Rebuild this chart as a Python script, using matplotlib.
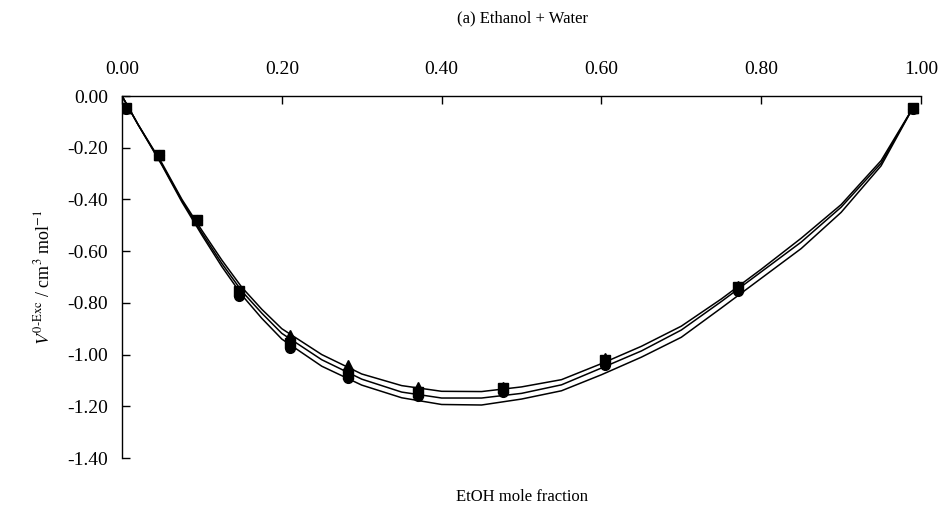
import matplotlib
matplotlib.use("Agg")
import matplotlib.pyplot as plt

plt.rcParams['font.family'] = ['Liberation Serif', 'DejaVu Serif']
plt.rcParams['mathtext.fontset'] = 'stix'

# measured points (three series)
x_pts = [0.005, 0.046, 0.094, 0.147, 0.210, 0.283, 0.370, 0.477, 0.605, 0.771, 0.990]
sq_vals = [-0.045, -0.23, -0.48, -0.755, -0.955, -1.075, -1.145, -1.13, -1.02, -0.74, -0.045]
tri_vals = [-0.045, -0.23, -0.48, -0.755, -0.925, -1.04, -1.125, -1.125, -1.015, -0.735, -0.045]
circ_vals = [-0.05, -0.23, -0.48, -0.775, -0.975, -1.09, -1.16, -1.145, -1.04, -0.755, -0.05]

# fitted curves
x_fit = [0.0, 0.02, 0.05, 0.075, 0.10, 0.125, 0.15, 0.175, 0.20, 0.25, 0.30, 0.35, 0.40, 0.45,
         0.50, 0.55, 0.60, 0.65, 0.70, 0.75, 0.80, 0.85, 0.90, 0.95, 0.99]
fit_a = [0.0, -0.11, -0.26, -0.40, -0.52, -0.635, -0.74, -0.825, -0.90, -1.00, -1.075, -1.12, -1.142, -1.143,
         -1.125, -1.097, -1.035, -0.968, -0.89, -0.785, -0.67, -0.55, -0.42, -0.25, -0.045]
fit_b = [0.0, -0.11, -0.265, -0.405, -0.53, -0.648, -0.755, -0.84, -0.918, -1.02, -1.095, -1.145, -1.168, -1.168,
         -1.15, -1.117, -1.052, -0.986, -0.905, -0.795, -0.68, -0.565, -0.43, -0.26, -0.045]
fit_c = [0.0, -0.11, -0.268, -0.41, -0.538, -0.66, -0.77, -0.86, -0.94, -1.045, -1.118, -1.167, -1.193, -1.195,
         -1.172, -1.14, -1.078, -1.01, -0.933, -0.82, -0.705, -0.59, -0.45, -0.27, -0.045]

x_ticks = [0.0, 0.2, 0.4, 0.6, 0.8, 1.0]
y_ticks = [0.0, -0.2, -0.4, -0.6, -0.8, -1.0, -1.2, -1.4]

fig = plt.figure(figsize=(9.43, 5.08), dpi=100)
ax = fig.add_axes([0.1294, 0.0984, 0.8473, 0.7126])

for fit in (fit_a, fit_b, fit_c):
    ax.plot(x_fit, fit, color='black', lw=1.1, zorder=2)

ax.plot(x_pts, circ_vals, 'o', color='black', ms=7, zorder=3)
ax.plot(x_pts, tri_vals, '^', color='black', ms=7.5, zorder=4)
ax.plot(x_pts, sq_vals, 's', color='black', ms=7, zorder=5)

ax.set_xlim(0, 1.0)
ax.set_ylim(-1.4, 0.0)
ax.set_xticks(x_ticks)
ax.set_yticks(y_ticks)
ax.set_xticklabels([f'{v:.2f}' for v in x_ticks])
ax.set_yticklabels([f'{v:.2f}' for v in y_ticks])

ax.xaxis.tick_top()
ax.xaxis.set_label_position('bottom')
ax.tick_params(axis='both', direction='in', length=6, width=1, labelsize=14)
ax.tick_params(axis='y', pad=10)
ax.tick_params(axis='x', pad=13)

ax.spines['right'].set_visible(False)
ax.spines['bottom'].set_visible(False)
ax.spines['left'].set_linewidth(1)
ax.spines['top'].set_linewidth(1)

ax.set_xlabel('EtOH mole fraction', fontsize=12, labelpad=22)
ax.set_ylabel(r'$V^{\mathrm{0\text{-}Exc}}$ / cm$^3$ mol$^{-1}$', fontsize=13, labelpad=10)
fig.text(0.5545, 0.963, '(a) Ethanol + Water', ha='center', va='center', fontsize=12)

plt.savefig('out.png', dpi=100, facecolor='white')
